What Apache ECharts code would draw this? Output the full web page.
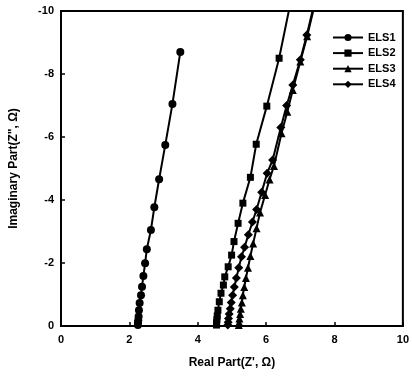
<!DOCTYPE html>
<html>
<head>
<meta charset="utf-8">
<script src="https://cdn.jsdelivr.net/npm/echarts@6/dist/echarts.min.js"></script>
<style>
  html, body { margin: 0; padding: 0; background: #fff; }
  #chart { width: 412px; height: 378px; }
</style>
</head>
<body>
<div id="chart"></div>
<script>
// Nyquist data, [Z' , Z''] pairs
var els1 = [[2.25,-0.03],[2.25,-0.1],[2.26,-0.18],[2.27,-0.3],[2.28,-0.5],[2.30,-0.73],[2.34,-0.98],[2.37,-1.25],
    [2.41,-1.59],[2.46,-1.99],[2.51,-2.44],[2.63,-3.05],[2.73,-3.77],[2.87,-4.66],[3.05,-5.75],[3.26,-7.05],[3.49,-8.7]];
var els2 = [[4.55,-0.03],[4.55,-0.1],[4.56,-0.2],[4.57,-0.32],[4.59,-0.5],[4.63,-0.77],[4.68,-1.04],[4.75,-1.3],
    [4.79,-1.56],[4.89,-1.88],[4.99,-2.25],[5.06,-2.68],[5.18,-3.26],[5.32,-3.9],[5.54,-4.72],[5.71,-5.77],
    [6.02,-6.98],[6.38,-8.5],[6.72,-10.3]];
var els3 = [[5.2,-0.03],[5.21,-0.12],[5.22,-0.24],[5.24,-0.38],[5.26,-0.55],[5.29,-0.75],[5.32,-0.98],[5.36,-1.24],
    [5.41,-1.52],[5.47,-1.85],[5.54,-2.22],[5.62,-2.62],[5.72,-3.1],[5.82,-3.6],[5.97,-4.16],[6.1,-4.65],
    [6.23,-5.08],[6.45,-6.12],[6.62,-6.8],[6.78,-7.49],[7.0,-8.4],[7.2,-9.2],[7.42,-10.2]];
var els4 = [[4.88,-0.03],[4.89,-0.12],[4.9,-0.24],[4.92,-0.38],[4.95,-0.55],[4.98,-0.75],[5.02,-0.98],[5.07,-1.24],
    [5.13,-1.52],[5.2,-1.85],[5.28,-2.2],[5.37,-2.5],[5.48,-2.9],[5.6,-3.3],[5.72,-3.7],[5.87,-4.25],
    [6.03,-4.85],[6.19,-5.27],[6.43,-6.3],[6.6,-7.0],[6.78,-7.65],[7.0,-8.45],[7.19,-9.24],[7.4,-10.2]];

var names = ['ELS1', 'ELS2', 'ELS3', 'ELS4'];
var symbols = ['circle', 'rect', 'triangle', 'diamond'];
var sizes = [8, 7, 8, 9];
var datas = [els1, els2, els3, els4];

var chart = echarts.init(document.getElementById('chart'));

var bold = { color: '#000', fontFamily: 'Liberation Sans', fontWeight: 'bold', fontSize: 11 };

var series = [];
for (var i = 0; i < names.length; i++) {
    series.push({
        name: names[i],
        type: 'line',
        data: datas[i],
        symbol: symbols[i],
        symbolSize: sizes[i],
        showAllSymbol: true,
        clip: true,
        lineStyle: { color: '#000', width: 2 },
        itemStyle: { color: '#000' },
        animation: false
    });
}

var option = {
    backgroundColor: '#fff',
    grid: {
        left: 57, right: 8, top: 11, bottom: 52,
        show: true, borderColor: '#000', borderWidth: 2
    },
    legend: {
        orient: 'vertical',
        left: 327,
        top: 27,
        itemWidth: 30,
        itemHeight: 9,
        itemGap: 4.6,
        textStyle: bold,
        data: names
    },
    xAxis: {
        type: 'value',
        min: 0, max: 10, interval: 2,
        name: "Real Part(Z', Ω)",
        nameLocation: 'middle',
        nameGap: 31,
        nameTextStyle: { color: '#000', fontFamily: 'Liberation Sans', fontWeight: 'bold', fontSize: 12 },
        axisLine: { lineStyle: { color: '#000', width: 2 } },
        axisTick: { inside: true, length: 4, lineStyle: { color: '#000', width: 1.5 } },
        axisLabel: Object.assign({ margin: 8 }, bold),
        splitLine: { show: false }
    },
    yAxis: {
        type: 'value',
        min: -10, max: 0, interval: 2,
        inverse: true,
        name: 'Imaginary Part(Z", Ω)',
        nameLocation: 'middle',
        nameGap: 41,
        nameTextStyle: { color: '#000', fontFamily: 'Liberation Sans', fontWeight: 'bold', fontSize: 12 },
        axisLine: { lineStyle: { color: '#000', width: 2 } },
        axisTick: { inside: true, length: 4, lineStyle: { color: '#000', width: 1.5 } },
        axisLabel: Object.assign({ margin: 7 }, bold),
        splitLine: { show: false }
    },
    series: series
};

chart.setOption(option);
</script>
</body>
</html>
